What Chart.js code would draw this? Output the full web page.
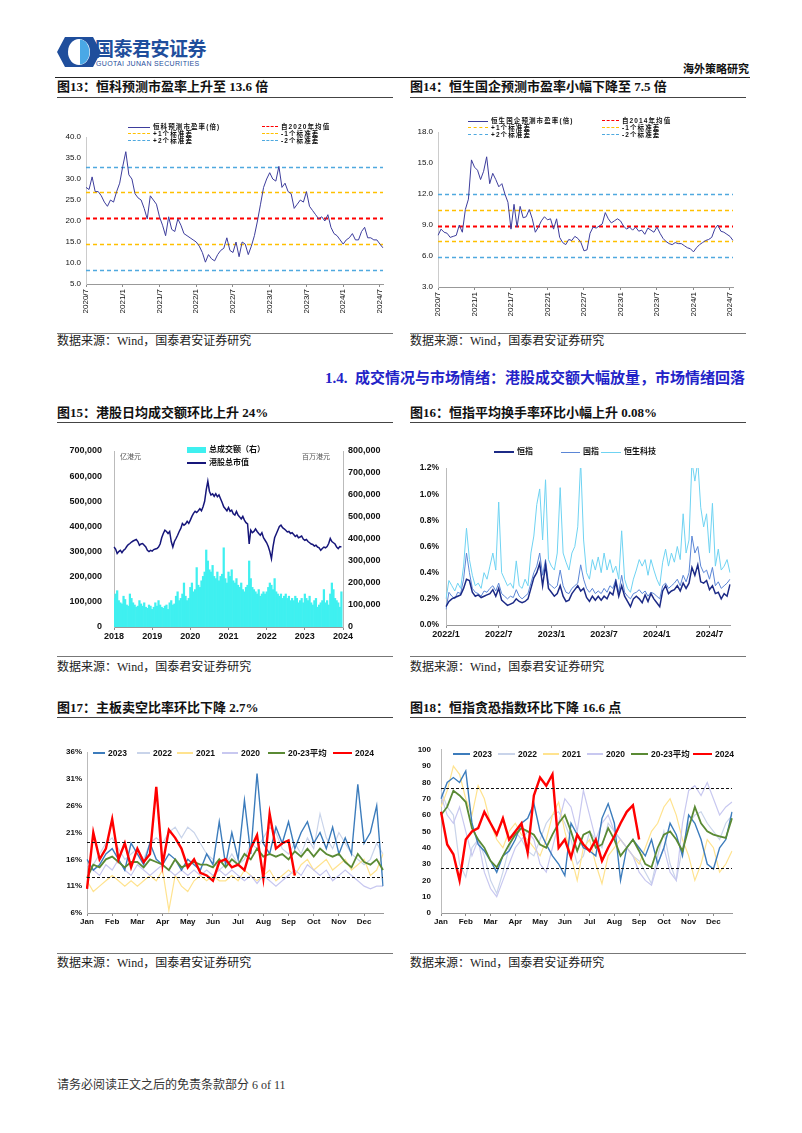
<!DOCTYPE html>
<html>
<head>
<meta charset="utf-8">
<script src="https://cdn.jsdelivr.net/npm/chart.js@4.4.0/dist/chart.umd.min.js"></script>
<style>
  body { margin: 0; width: 802px; height: 1133px; background: #fff; position: relative; overflow: hidden;
         font-family: "Liberation Serif", "Noto Sans CJK SC", serif; color: #111; }
  .abs { position: absolute; white-space: nowrap; }
  canvas { position: absolute; }
  .title { position: absolute; font-size: 13px; line-height: 14px; font-weight: bold; white-space: nowrap; }
  .uline { position: absolute; height: 0; border-top: 1.5px solid #444; }
  .fline { position: absolute; height: 0; border-top: 1px solid #777; }
  .src { position: absolute; font-size: 12px; line-height: 13px; color: #222; white-space: nowrap; }
  .lg { position: absolute; line-height: 12px; font-weight: bold; white-space: nowrap;
        font-family: "Liberation Sans", "Noto Sans CJK SC", sans-serif; }
  .s7 { font-size: 6.5px; letter-spacing: 1.1px; }
  .s8 { font-size: 8px; }
  .s9 { font-size: 8.5px; }
</style>
</head>
<body>

<!-- header -->
<svg class="abs" style="left:57px;top:37px" width="44" height="30" viewBox="0 0 44 30">
  <polygon points="8,0 36,0 44,15 36,30 8,30 0,15" fill="#1f4e9c"/>
  <ellipse cx="22" cy="15" rx="11" ry="13" fill="#fff"/>
  <path d="M23 2.5 A9.5 12.5 0 0 1 23 27.5 Z" fill="#4aa8e6"/>
</svg>
<div class="abs" style="left:95px;top:38px;font-size:19px;line-height:20px;font-weight:bold;color:#1f4e9c;font-family:'Noto Sans CJK SC',sans-serif;letter-spacing:-0.5px">国泰君安证券</div>
<div class="abs" style="left:96px;top:60px;font-size:7px;line-height:8px;color:#1f4e9c;font-family:'Liberation Sans',sans-serif;letter-spacing:0.35px">GUOTAI JUNAN SECURITIES</div>
<div class="abs" style="left:683px;top:63px;font-size:11px;line-height:12px;font-weight:bold;">海外策略研究</div>
<div class="abs" style="left:55px;top:77px;width:695px;height:0;border-top:1.5px solid #222"></div>

<!-- row 1 -->
<div class="title" style="left:57px;top:80px">图13：恒科预测市盈率上升至 13.6 倍</div>
<div class="uline" style="left:57px;top:97px;width:336px"></div>
<div class="title" style="left:410px;top:80px">图14：恒生国企预测市盈率小幅下降至 7.5 倍</div>
<div class="uline" style="left:410px;top:97px;width:336px"></div>
<canvas id="c13" width="345" height="232" style="left:50px;top:100px"></canvas>
<canvas id="c14" width="345" height="232" style="left:400px;top:100px"></canvas>
<div class="fline" style="left:57px;top:333px;width:336px"></div>
<div class="fline" style="left:410px;top:333px;width:336px"></div>
<div class="src" style="left:57px;top:335px">数据来源：Wind，国泰君安证券研究</div>
<div class="src" style="left:410px;top:335px">数据来源：Wind，国泰君安证券研究</div>

<!-- section heading -->
<div class="abs" style="right:57px;top:370px;font-size:15px;line-height:16px;font-weight:bold;color:#2323c8">1.4.&nbsp;&nbsp;成交情况与市场情绪：港股成交额大幅放量，市场情绪回落</div>

<!-- row 2 -->
<div class="title" style="left:57px;top:406px">图15：港股日均成交额环比上升 24%</div>
<div class="uline" style="left:57px;top:422px;width:336px"></div>
<div class="title" style="left:410px;top:406px">图16：恒指平均换手率环比小幅上升 0.08%</div>
<div class="uline" style="left:410px;top:422px;width:336px"></div>
<canvas id="c15" width="345" height="218" style="left:50px;top:430px"></canvas>
<canvas id="c16" width="345" height="218" style="left:400px;top:430px"></canvas>
<div class="abs" style="left:120px;top:452px;font-size:7px;line-height:9px;color:#555;font-family:'Noto Sans CJK SC',sans-serif">亿港元</div>
<div class="abs" style="left:302px;top:452px;font-size:7px;line-height:9px;color:#555;font-family:'Noto Sans CJK SC',sans-serif">百万港元</div>
<div class="fline" style="left:57px;top:656px;width:336px"></div>
<div class="fline" style="left:410px;top:656px;width:336px"></div>
<div class="src" style="left:57px;top:661px">数据来源：Wind，国泰君安证券研究</div>
<div class="src" style="left:410px;top:661px">数据来源：Wind，国泰君安证券研究</div>

<!-- row 3 -->
<div class="title" style="left:57px;top:701px">图17：主板卖空比率环比下降 2.7%</div>
<div class="uline" style="left:57px;top:717px;width:336px"></div>
<div class="title" style="left:410px;top:701px">图18：恒指贪恐指数环比下降 16.6 点</div>
<div class="uline" style="left:410px;top:717px;width:336px"></div>
<canvas id="c17" width="355" height="200" style="left:40px;top:735px"></canvas>
<canvas id="c18" width="345" height="200" style="left:400px;top:735px"></canvas>
<div class="fline" style="left:57px;top:953px;width:336px"></div>
<div class="fline" style="left:410px;top:953px;width:336px"></div>
<div class="src" style="left:57px;top:957px">数据来源：Wind，国泰君安证券研究</div>
<div class="src" style="left:410px;top:957px">数据来源：Wind，国泰君安证券研究</div>

<div class="src" style="left:57px;top:1079px;color:#333">请务必阅读正文之后的免责条款部分 6 of 11</div>

<script>
// ---------- 数据 ----------
// 图13 恒科预测市盈率（半月，2020/7 起）
var hstechPE = [28, 27.5, 30.5, 27, 27, 26, 24.5, 23.5, 25, 24.5, 27, 29,
  33, 36.5, 31, 30, 26.5, 25.5, 25, 23, 20.5, 26, 25, 24,
  21, 19, 16.5, 21, 18, 17.5, 20.5, 19, 17, 16.5, 16, 15.5,
  15, 14, 12.5, 10.2, 12, 11, 10.5, 12, 13, 13.5, 16, 13,
  12.5, 15, 11.5, 15, 14.5, 12, 14, 16.5, 20, 24, 28, 30,
  31.5, 30, 29.5, 33, 28, 29, 27, 26.5, 23, 24, 25, 24.5,
  27, 23.5, 22.5, 21.5, 20.5, 21, 20, 21.5, 18.5, 17, 16.5, 15.5,
  14.5, 15.5, 16, 17, 15.5, 15.5, 17.5, 18.5, 16, 16, 15.5, 15.5,
  14.5, 13.6];
// 均值, +1, -1, +2, -2 个标准差
var hstechBands = [20.6, 26.8, 14.5, 32.8, 8.4];

// 图14 恒生国企预测市盈率
var hsceiPE = [8.0, 8.6, 8.3, 8.2, 7.8, 7.9, 8.0, 9.0, 8.3, 10.5, 11.5, 15.3,
  14.6, 14.3, 13.4, 14.2, 15.6, 13.0, 14.0, 13.4, 12.7, 13.0, 12.0, 11.2,
  8.6, 11.0, 8.8, 10.8, 9.7, 9.8, 10.5, 9.6, 8.3, 8.8, 9.4, 9.8,
  9.5, 9.6, 8.6, 9.6, 7.8, 7.3, 7.1, 7.6, 7.5, 7.9, 7.7, 7.3,
  6.5, 6.6, 8.2, 8.8, 8.7, 8.9, 9.1, 10.2, 9.6, 9.2, 9.4, 9.6,
  9.4, 8.9, 8.6, 8.8, 8.5, 8.8, 8.4, 8.5, 8.1, 8.7, 8.5, 8.3,
  8.8, 8.2, 7.7, 7.4, 7.2, 7.1, 7.3, 7.2, 7.2, 7.0, 6.8, 6.7,
  6.4, 6.8, 7.1, 7.3, 7.5, 7.6, 7.8, 8.6, 9.0, 8.4, 8.3, 8.1,
  7.9, 7.5];
var hsceiBands = [8.95, 10.45, 7.45, 12.0, 5.9];

// 图15 港股总市值（亿港元）与总成交额（百万港元），半月，2018/1 起
var hkMarketCap = [318000, 310000, 292000, 300000, 305000, 296000, 305000, 310000, 320000, 328000, 332000, 338000,
  342000, 345000, 348000, 340000, 325000, 330000, 332000, 325000, 318000, 305000, 300000, 305000,
  302000, 308000, 310000, 312000, 318000, 330000, 355000, 372000, 385000, 380000, 372000, 380000,
  340000, 318000, 340000, 352000, 365000, 380000, 392000, 412000, 405000, 410000, 420000, 412000,
  425000, 440000, 452000, 460000, 455000, 462000, 470000, 462000, 478000, 500000, 545000, 580000,
  540000, 525000, 530000, 520000, 530000, 518000, 525000, 510000, 495000, 478000, 470000, 462000,
  475000, 460000, 465000, 450000, 445000, 460000, 445000, 438000, 430000, 440000, 425000, 415000,
  410000, 330000, 385000, 375000, 380000, 390000, 380000, 372000, 365000, 375000, 355000, 345000,
  335000, 320000, 300000, 272000, 320000, 355000, 370000, 385000, 400000, 405000, 395000, 390000,
  385000, 378000, 380000, 372000, 375000, 368000, 360000, 365000, 355000, 358000, 362000, 350000,
  345000, 348000, 340000, 335000, 330000, 328000, 322000, 325000, 318000, 315000, 305000, 312000,
  318000, 315000, 320000, 332000, 352000, 340000, 335000, 330000, 318000, 312000, 320000, 318000];
var hkTurnover = [130000, 150000, 165000, 120000, 110000, 105000, 140000, 125000, 100000, 95000, 150000, 130000,
  110000, 100000, 90000, 95000, 120000, 105000, 95000, 110000, 90000, 85000, 100000, 95000,
  80000, 90000, 110000, 95000, 120000, 100000, 90000, 85000, 95000, 100000, 80000, 110000,
  120000, 100000, 105000, 140000, 160000, 120000, 130000, 150000, 200000, 140000, 120000, 130000,
  180000, 200000, 160000, 170000, 270000, 190000, 180000, 210000, 230000, 250000, 350000, 300000,
  260000, 250000, 280000, 230000, 220000, 250000, 210000, 230000, 240000, 360000, 220000, 200000,
  250000, 230000, 260000, 210000, 200000, 220000, 190000, 180000, 200000, 170000, 160000, 180000,
  190000, 300000, 220000, 180000, 170000, 160000, 150000, 170000, 140000, 150000, 160000, 150000,
  160000, 180000, 200000, 190000, 170000, 220000, 160000, 150000, 140000, 150000, 130000, 140000,
  150000, 130000, 140000, 120000, 130000, 120000, 140000, 130000, 110000, 120000, 130000, 110000,
  150000, 130000, 120000, 140000, 110000, 100000, 120000, 130000, 90000, 100000, 110000, 120000,
  170000, 110000, 120000, 100000, 150000, 200000, 170000, 130000, 120000, 110000, 90000, 160000];

// 图16 换手率（%），每 10 天，2022/1 起
var turnHSI = [0.14, 0.18, 0.20, 0.21, 0.22, 0.23, 0.28, 0.35, 0.34, 0.25, 0.22, 0.23,
  0.21, 0.22, 0.23, 0.24, 0.27, 0.22, 0.28, 0.19, 0.17, 0.15, 0.16, 0.17,
  0.20, 0.18, 0.17, 0.18, 0.20, 0.28, 0.36, 0.40, 0.47, 0.30, 0.46, 0.28,
  0.25, 0.22, 0.24, 0.30, 0.22, 0.18, 0.19, 0.24, 0.27, 0.30, 0.26, 0.28,
  0.21, 0.18, 0.22, 0.19, 0.22, 0.19, 0.22, 0.20, 0.25, 0.23, 0.33, 0.22,
  0.30, 0.22, 0.18, 0.14, 0.20, 0.22, 0.20, 0.17, 0.23, 0.18, 0.24, 0.20,
  0.17, 0.14, 0.26, 0.30, 0.24, 0.26, 0.27, 0.30, 0.26, 0.32, 0.28, 0.32,
  0.44, 0.38, 0.46, 0.33, 0.32, 0.34, 0.27, 0.30, 0.24, 0.25, 0.20, 0.24,
  0.22, 0.31];
var turnHSCEI = [0.12, 0.25, 0.22, 0.20, 0.25, 0.24, 0.35, 0.55, 0.40, 0.28, 0.25, 0.24,
  0.22, 0.26, 0.25, 0.28, 0.30, 0.26, 0.32, 0.24, 0.22, 0.20, 0.22, 0.21,
  0.27, 0.22, 0.20, 0.22, 0.24, 0.32, 0.40, 0.45, 0.55, 0.38, 0.50, 0.32,
  0.30, 0.28, 0.30, 0.42, 0.30, 0.25, 0.24, 0.28, 0.30, 0.32, 0.46, 0.35,
  0.28, 0.25, 0.28, 0.24, 0.26, 0.24, 0.28, 0.25, 0.30, 0.28, 0.35, 0.25,
  0.38, 0.25, 0.22, 0.20, 0.24, 0.25, 0.27, 0.24, 0.26, 0.22, 0.25, 0.24,
  0.22, 0.20, 0.30, 0.32, 0.28, 0.30, 0.32, 0.35, 0.30, 0.38, 0.33, 0.40,
  0.68, 0.55, 0.60, 0.45, 0.40, 0.42, 0.35, 0.44, 0.30, 0.33, 0.28, 0.30,
  0.32, 0.35];
var turnHSTECH = [0.20, 0.34, 0.30, 0.26, 0.32, 0.28, 0.45, 0.74, 0.50, 0.38, 0.30, 0.32,
  0.28, 0.40, 0.35, 0.45, 0.55, 0.42, 0.94, 0.40, 0.35, 0.30, 0.32, 0.28,
  0.49, 0.30, 0.28, 0.35, 0.30, 0.55, 0.68, 0.92, 1.04, 0.65, 1.11, 0.50,
  0.45, 0.42, 0.55, 1.05, 0.55, 0.48, 0.42, 0.55, 0.60, 0.75, 1.25, 0.65,
  0.40, 0.35, 0.50, 0.42, 0.52, 0.40, 0.55, 0.42, 0.50, 0.40, 0.45, 0.35,
  0.72, 0.35, 0.28, 0.25, 0.35, 0.42, 0.50, 0.45, 0.50, 0.38, 0.50, 0.42,
  0.35, 0.30, 0.48, 0.58, 0.45, 0.55, 0.48, 0.60, 0.50, 0.85, 0.55, 0.65,
  1.25, 1.10, 1.25, 0.90, 0.75, 0.85, 0.55, 0.93, 0.45, 0.58, 0.42, 0.45,
  0.50, 0.40];

// 图17 主板卖空比率（%），每年 48 个点
var monthNames = ['Jan', 'Feb', 'Mar', 'Apr', 'May', 'Jun', 'Jul', 'Aug', 'Sep', 'Oct', 'Nov', 'Dec'];
var seasonNames = ['2023', '2022', '2021', '2020', '20-23平均', '2024'];
var short2023 = [16, 14, 15, 17, 18, 16, 14, 19, 17, 15, 19, 16, 15, 17, 16, 14, 16, 15, 14, 17, 15, 23, 15, 21,
  16, 27, 17, 32, 19, 17, 22, 19, 23, 18, 21, 23, 19, 21, 18, 22, 17, 20, 17, 30, 19, 21, 26, 11];
var short2022 = [13, 15, 17, 19, 20, 18, 16, 17, 18, 16, 19, 20, 19, 21, 22, 20, 22, 21, 19, 17, 16, 14, 15, 17,
  15, 16, 19, 18, 20, 22, 21, 18, 17, 19, 17, 20, 18, 24.5, 20, 18, 21, 19, 17, 16, 15, 16, 19, 17];
var short2021 = [12, 10, 11, 12, 13, 12, 11, 12, 11, 12, 13, 12, 14, 6.5, 13, 11, 10, 12, 13, 12, 13, 12, 12, 13,
  12, 14, 13, 12, 13, 14, 12, 13, 14, 13, 15, 16, 14, 15, 16, 14, 15, 16, 14, 15, 16, 13, 14, 17];
var short2020 = [15, 14, 13, 15, 14, 16, 14, 13, 15, 14, 13, 14, 15, 14, 13, 14, 13, 14, 13, 14, 13, 14, 13, 14,
  13, 12, 13, 11.5, 13, 12, 11, 12, 13, 14, 13, 15, 14, 13, 14, 12, 13, 14, 13, 12, 11, 10.5, 11, 11];
var shortAvg = [12.5, 15, 14.5, 16, 16.5, 15.5, 14.5, 15.5, 15.5, 14.5, 16, 15.5, 15, 14, 16, 14.5, 15, 15.5, 15, 15, 14.5, 16, 14.5, 16,
  15, 17, 16, 18, 16.5, 17, 16.5, 17, 16, 17.5, 16.5, 18, 16.5, 18, 17, 16.5, 17, 15.5, 14.5, 17, 15.5, 15, 16, 14];
var short2024 = [10.5, 21, 16, 18, 23.5, 16, 19, 14.5, 18, 15.5, 17, 29.5, 15, 21.5, 20, 18, 14.5, 16, 13.5, 13, 12, 15.5, 16, 14.5,
  15, 14, 18, 20.5, 12.5, 24.5, 18, 19, 19.5, 13];
var shortBands = [19.2, 12.8];

// 图18 恒指贪恐指数
var fear2023 = [70, 80, 83, 80, 87, 55, 42, 38, 32, 25, 35, 38, 45, 55, 58, 67, 50, 42, 35, 30, 23, 55, 48, 40,
  38, 35, 58, 67, 55, 20, 40, 45, 40, 35, 45, 30, 40, 55, 48, 35, 60, 55, 45, 30, 27, 40, 45, 62];
var fear2022 = [75, 65, 60, 30, 22, 40, 45, 35, 20, 12, 25, 40, 50, 45, 38, 35, 45, 55, 60, 62, 55, 45, 30, 35,
  50, 45, 40, 55, 50, 45, 40, 35, 32, 25, 18, 35, 50, 30, 20, 40, 55, 60, 62, 55, 50, 45, 55, 60];
var fear2021 = [65, 75, 90, 85, 70, 60, 78, 70, 55, 45, 40, 50, 55, 48, 45, 40, 35, 45, 60, 68, 50, 35, 20, 40,
  45, 30, 18, 35, 40, 45, 40, 35, 30, 40, 50, 55, 65, 70, 60, 45, 35, 20, 30, 45, 40, 25, 30, 38];
var fear2020 = [72, 60, 55, 65, 50, 35, 45, 25, 15, 10, 20, 30, 40, 45, 50, 45, 30, 25, 40, 55, 70, 65, 50, 75,
  60, 45, 55, 60, 50, 45, 40, 35, 25, 20, 17, 30, 40, 25, 20, 55, 75, 78, 72, 80, 70, 60, 65, 68];
var fearAvg = [60, 65, 75, 72, 68, 52, 45, 40, 32, 28, 35, 42, 48, 52, 50, 48, 42, 40, 48, 55, 60, 50, 38, 48,
  50, 40, 42, 52, 45, 35, 40, 45, 38, 30, 28, 40, 48, 50, 45, 38, 52, 65, 55, 50, 48, 47, 46, 58];
var fear2024 = [62, 42, 36, 20, 45, 50, 52, 62, 55, 48, 58, 45, 50, 55, 37, 72, 83, 78, 85, 40, 45, 34, 48, 42,
  38, 45, 32, 40, 47, 55, 62, 66, 45];
var fearBands = [76.5, 27.5];

// ---------- 类目标签 ----------
function dateLabels(y, m, count, days) {
  var out = [];
  for (var k = 0; k < count; k++) {
    var mm = m - 1 + Math.floor(k / days.length);
    out.push((y + Math.floor(mm / 12)) + '/' + (mm % 12 + 1) + '/' + days[k % days.length]);
  }
  return out;
}
var peLabels = dateLabels(2020, 7, hstechPE.length, [1, 16]);
var capLabels = dateLabels(2018, 1, hkMarketCap.length + 1, [1, 16]);
var turnLabels = dateLabels(2022, 1, turnHSI.length, [1, 11, 21]);
var weekLabels = [];
monthNames.forEach(function (m) { for (var w = 1; w <= 4; w++) weekLabels.push(m + '-' + w); });

// ---------- 公共设置 ----------
Chart.defaults.animation = false;
Chart.defaults.responsive = false;
Chart.defaults.font.family = "'Liberation Sans', Arial, sans-serif";
Chart.defaults.color = '#111';
Chart.defaults.plugins.legend.display = false;
Chart.defaults.plugins.tooltip.enabled = false;
Chart.defaults.elements.point.radius = 0;
Chart.defaults.elements.line.tension = 0;

// 水平参考线（均值、标准差等）
function drawRefLines(chart, opts) {
  var ctx = chart.ctx, area = chart.chartArea, y = chart.scales.y;
  (opts.lines || []).forEach(function (l) {
    var py = Math.round(y.getPixelForValue(l.value)) + 0.5;
    ctx.save();
    ctx.strokeStyle = l.color;
    ctx.lineWidth = l.width;
    ctx.setLineDash(l.dash);
    ctx.beginPath();
    ctx.moveTo(area.left, py);
    ctx.lineTo(area.right, py);
    ctx.stroke();
    ctx.restore();
  });
}
var refLines = {
  id: 'refLines',
  beforeDatasetsDraw: function (chart, args, opts) { if (!opts.onTop) drawRefLines(chart, opts); },
  afterDatasetsDraw: function (chart, args, opts) { if (opts.onTop) drawRefLines(chart, opts); }
};

function fixW(w) { return function (s) { s.width = w; }; }
function fixH(h) { return function (s) { s.height = h; }; }
function tickEvery(n) { return function (c) { return c.index % n === 0 ? '#8c8c8c' : 'rgba(0,0,0,0)'; }; }
function fnt(size, bold) { return { size: size, weight: bold ? 'bold' : 'normal' }; }

// 只在 1 月、7 月显示 年/月
function halfYearTick(v) {
  var p = this.getLabelForValue(v).split('/');
  return (p[2] === '1' && (p[1] === '1' || p[1] === '7')) ? p[0] + '/' + p[1] : '';
}

var red = '#ff0000', gold = '#ffc000', sky = '#4fa9df';

function bandLines(b) {
  return [
    { value: b[3], color: sky, width: 1.5, dash: [4, 3] },
    { value: b[4], color: sky, width: 1.5, dash: [4, 3] },
    { value: b[1], color: gold, width: 1.5, dash: [4, 3] },
    { value: b[2], color: gold, width: 1.5, dash: [4, 3] },
    { value: b[0], color: red, width: 2, dash: [4, 3] }
  ];
}

function peChart(id, labels, values, bands, yMin, yMax, step, yW, pad, xH) {
  return new Chart(document.getElementById(id), {
    type: 'line',
    data: { labels: labels, datasets: [{ data: values, borderColor: '#3d3d9c', borderWidth: 1 }] },
    options: {
      layout: { padding: pad },
      plugins: { refLines: { lines: bandLines(bands) } },
      scales: {
        x: {
          grid: { drawOnChartArea: false, tickLength: 3, color: tickEvery(12) },
          border: { color: '#999' },
          ticks: { autoSkip: false, minRotation: 90, maxRotation: 90, padding: 2, font: fnt(8), callback: halfYearTick },
          afterFit: fixH(xH)
        },
        y: {
          min: yMin, max: yMax,
          grid: { display: false, drawTicks: false },
          border: { color: '#ccc' },
          ticks: { stepSize: step, padding: 5, font: fnt(8), callback: function (v) { return v.toFixed(1); } },
          afterFit: fixW(yW)
        }
      }
    },
    plugins: [refLines]
  });
}

peChart('c13', peLabels, hstechPE, hstechBands, 5, 40, 5, 36, { top: 37, right: 12, left: 0, bottom: 0 }, 48);
peChart('c14', peLabels, hsceiPE, hsceiBands, 3, 18, 3, 38, { top: 32, right: 12, left: 0, bottom: 0 }, 45);

// 图15
new Chart(document.getElementById('c15'), {
  type: 'bar',
  data: {
    labels: capLabels,
    datasets: [
      { type: 'line', data: hkMarketCap, borderColor: '#16167a', borderWidth: 1.5, yAxisID: 'y', order: 0 },
      { type: 'bar', data: hkTurnover, backgroundColor: '#3ff0f0', borderWidth: 0, barPercentage: 1,
        categoryPercentage: 1, yAxisID: 'y1', order: 1 }
    ]
  },
  options: {
    layout: { padding: { top: 21, right: 0, left: 0, bottom: 0 } },
    scales: {
      x: {
        offset: false,
        grid: { offset: false, drawOnChartArea: false, tickLength: 3, color: tickEvery(24) },
        border: { color: '#999' },
        ticks: { autoSkip: false, maxRotation: 0, padding: 1, font: fnt(9, true),
          callback: function (v) { var p = this.getLabelForValue(v).split('/'); return (p[1] === '1' && p[2] === '1') ? p[0] : ''; } },
        afterFit: fixH(21)
      },
      y: {
        position: 'left', min: 0, max: 700000,
        grid: { display: false, drawTicks: false },
        border: { color: '#bbb' },
        ticks: { stepSize: 100000, padding: 12, font: fnt(9, true), callback: function (v) { return v.toLocaleString('en-US'); } },
        afterFit: fixW(64)
      },
      y1: {
        position: 'right', min: 0, max: 800000,
        grid: { display: false, drawTicks: false },
        border: { color: '#bbb' },
        ticks: { stepSize: 100000, padding: 5, font: fnt(9, true), callback: function (v) { return v.toLocaleString('en-US'); } },
        afterFit: fixW(52)
      }
    }
  }
});

// 图16
new Chart(document.getElementById('c16'), {
  type: 'line',
  data: {
    labels: turnLabels,
    datasets: [
      { data: turnHSI, borderColor: '#1c2a86', borderWidth: 1.5 },
      { data: turnHSCEI, borderColor: '#5b86d6', borderWidth: 1 },
      { data: turnHSTECH, borderColor: '#6fd3f2', borderWidth: 1 }
    ]
  },
  options: {
    layout: { padding: { top: 38, right: 15, left: 0, bottom: 0 } },
    scales: {
      x: {
        grid: { drawOnChartArea: false, tickLength: 3, color: tickEvery(18) },
        border: { color: '#999' },
        ticks: { autoSkip: false, maxRotation: 0, padding: 1, font: fnt(9, true), callback: halfYearTick },
        afterFit: fixH(23)
      },
      y: {
        min: 0, max: 1.2,
        grid: { display: false, drawTicks: false },
        border: { color: '#bbb' },
        ticks: { stepSize: 0.2, padding: 7, font: fnt(8.5, true), callback: function (v) { return v.toFixed(1) + '%'; } },
        afterFit: fixW(46)
      }
    }
  }
});

// 图17 / 图18 季节图
function seasonChart(id, s2024, sAvg, s2023, s2022, s2021, s2020, bands, yMin, yMax, step, suffix, yW, ypad, pad) {
  return new Chart(document.getElementById(id), {
    type: 'line',
    data: {
      labels: weekLabels,
      datasets: [
        { label: seasonNames[5], data: s2024, borderColor: '#ff0000', borderWidth: 2.4 },
        { label: seasonNames[4], data: sAvg, borderColor: '#5a8a34', borderWidth: 1.8 },
        { label: seasonNames[0], data: s2023, borderColor: '#3c7cbc', borderWidth: 1.4 },
        { label: seasonNames[3], data: s2020, borderColor: '#c8c8f0', borderWidth: 1.2 },
        { label: seasonNames[2], data: s2021, borderColor: '#ffe38f', borderWidth: 1.2 },
        { label: seasonNames[1], data: s2022, borderColor: '#c9d4ea', borderWidth: 1.2 }
      ]
    },
    options: {
      layout: { padding: pad },
      plugins: {
        refLines: { onTop: true, lines: bands.map(function (b) { return { value: b, color: '#111', width: 1.2, dash: [3, 2] }; }) }
      },
      scales: {
        x: {
          grid: { drawOnChartArea: false, tickLength: 3, color: tickEvery(4) },
          border: { color: '#999' },
          ticks: { autoSkip: false, maxRotation: 0, padding: 1, font: fnt(8, true),
            callback: function (v, i) { return i % 4 === 0 ? monthNames[i / 4] : ''; } },
          afterFit: fixH(22)
        },
        y: {
          min: yMin, max: yMax,
          grid: { display: false, drawTicks: false },
          border: { color: '#bbb' },
          ticks: { stepSize: step, padding: ypad, font: fnt(8, true), callback: function (v) { return v + suffix; } },
          afterFit: fixW(yW)
        }
      }
    },
    plugins: [refLines]
  });
}

seasonChart('c17', short2024, shortAvg, short2023, short2022, short2021, short2020, shortBands,
  6, 36, 5, '%', 47, 5, { top: 17, right: 12, left: 0, bottom: 0 });
seasonChart('c18', fear2024, fearAvg, fear2023, fear2022, fear2021, fear2020, fearBands,
  0, 100, 10, '', 41, 10, { top: 14, right: 13, left: 0, bottom: 0 });

// ---------- 图例 ----------
function addLegend(items, cls) {
  items.forEach(function (it) {
    var sw = document.createElement('div');
    var t = it.t || 1;
    sw.style.position = 'absolute';
    sw.style.left = it.x + 'px';
    sw.style.width = it.w + 'px';
    if (it.kind === 'rect') {
      sw.style.top = (it.y - 3) + 'px'; sw.style.height = '6px'; sw.style.background = it.color;
    } else if (it.kind === 'dash') {
      sw.style.top = (it.y - 1) + 'px'; sw.style.height = '0'; sw.style.borderTop = '1.5px dashed ' + it.color;
    } else {
      sw.style.top = (it.y - t / 2) + 'px'; sw.style.height = t + 'px'; sw.style.background = it.color;
    }
    document.body.appendChild(sw);
    var tx = document.createElement('div');
    tx.className = 'lg ' + cls;
    tx.style.left = (it.x + it.w + 3) + 'px';
    tx.style.top = (it.y - 6) + 'px';
    tx.textContent = it.label;
    document.body.appendChild(tx);
  });
}

var bandNames = ['+1个标准差', '-1个标准差', '+2个标准差', '-2个标准差'];
addLegend([
  { x: 128, y: 127, w: 22, color: '#3d3d9c', label: '恒科预测市盈率(倍)' },
  { x: 262, y: 127, w: 16, color: red, kind: 'dash', label: '自2020年均值' },
  { x: 128, y: 134, w: 22, color: gold, kind: 'dash', label: bandNames[0] },
  { x: 262, y: 134, w: 16, color: gold, kind: 'dash', label: bandNames[1] },
  { x: 128, y: 141, w: 22, color: sky, kind: 'dash', label: bandNames[2] },
  { x: 262, y: 141, w: 16, color: sky, kind: 'dash', label: bandNames[3] }
], 's7');
addLegend([
  { x: 468, y: 121, w: 20, color: '#3d3d9c', label: '恒生国企预测市盈率(倍)' },
  { x: 602, y: 121, w: 17, color: red, kind: 'dash', label: '自2014年均值' },
  { x: 468, y: 128, w: 20, color: gold, kind: 'dash', label: bandNames[0] },
  { x: 602, y: 128, w: 17, color: gold, kind: 'dash', label: bandNames[1] },
  { x: 468, y: 135, w: 20, color: sky, kind: 'dash', label: bandNames[2] },
  { x: 602, y: 135, w: 17, color: sky, kind: 'dash', label: bandNames[3] }
], 's7');
addLegend([
  { x: 187, y: 450, w: 19, color: '#3ff0f0', kind: 'rect', label: '总成交额（右）' },
  { x: 187, y: 463, w: 19, color: '#16167a', t: 1.5, label: '港股总市值' }
], 's8');
addLegend([
  { x: 494, y: 452, w: 20, color: '#1c2a86', t: 2, label: '恒指' },
  { x: 561, y: 452, w: 19, color: '#5b86d6', label: '国指' },
  { x: 601, y: 452, w: 20, color: '#6fd3f2', label: '恒生科技' }
], 's8');
var seasonColors = ['#3c7cbc', '#c9d4ea', '#ffe38f', '#c8c8f0', '#5a8a34', '#ff0000'];
var seasonWidths = [1.5, 1.5, 1.5, 1.5, 2, 2.5];
function seasonLegend(xs, ws, y) {
  addLegend(seasonNames.map(function (n, k) {
    return { x: xs[k], y: y, w: ws[k], color: seasonColors[k], t: seasonWidths[k], label: n };
  }), 's9');
}
seasonLegend([93, 137, 177, 222, 268, 333], [12, 13, 16, 16, 17, 19], 753);
seasonLegend([453, 498, 543, 587, 631, 693], [17, 17, 16, 16, 17, 19], 754);
</script>
</body>
</html>
